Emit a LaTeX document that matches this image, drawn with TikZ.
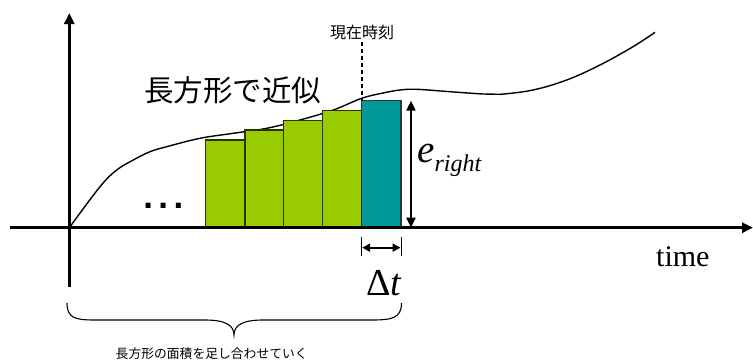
\documentclass[tikz,border=0pt]{standalone}
\usepackage{fontspec}
\setmainfont{Liberation Serif}
\newfontfamily\jp{Noto Sans CJK JP}
\newfontfamily\dejavu{DejaVu Sans}
\usetikzlibrary{arrows.meta}
\definecolor{barGreen}{HTML}{99CC00}
\definecolor{barTeal}{HTML}{009999}
\definecolor{barEdge}{HTML}{2B3300}
\tikzset{
  axisline/.style={line width=2.8pt},
  bargreen/.style={fill=barGreen, draw=barEdge, line width=1.3pt},
  barteal/.style={fill=barTeal, draw=black!80, line width=1.3pt},
  dimarrow/.style={line width=2.2pt, {Triangle[length=10pt,width=9pt]}-{Triangle[length=10pt,width=9pt]}},
  smallarrow/.style={line width=2pt, {Triangle[length=8pt,width=8pt]}-{Triangle[length=8pt,width=8pt]}},
  tickline/.style={line width=1pt},
  curveline/.style={line width=1.4pt},
  nowline/.style={line width=2pt, dash pattern=on 4pt off 3pt},
  lbl/.style={inner sep=0pt},
}
\begin{document}
\begin{tikzpicture}[x=1pt, y=-1pt]
\useasboundingbox (0,0) rectangle (753,360);
% coordinates
\coordinate (origin) at (69.3,227.7);
\coordinate (yTop) at (69.3,13);
\coordinate (yBot) at (69.3,287);
\coordinate (xLeft) at (10,227.7);
\coordinate (xRight) at (753,227.7);
% curve
\draw[curveline] plot[smooth, tension=0.6] coordinates {
 (69.3,227.7) (100,186.7) (116.7,170) (133.3,160) (150,151.7) (166.7,146.7)
 (200,138.3) (233.3,133.3) (266.7,128.3) (300,120) (333.3,110) (361.7,98.3)
 (383,93) (400,90) (416.7,89.3) (450,91.7) (483,94) (500,94.3) (533,90)
 (566.7,80) (600,65) (633,46.7) (655,32.3)};
% bars
\draw[bargreen] (205.7,227.7) rectangle (245,140);
\draw[bargreen] (245,227.7) rectangle (283.7,130);
\draw[bargreen] (283.7,227.7) rectangle (322.7,120.7);
\draw[bargreen] (322.7,227.7) rectangle (361.7,110.7);
\draw[barteal] (361.7,227.7) rectangle (401,100.7);
% axes
\draw[axisline, -{Triangle[length=11pt,width=10pt]}] (xLeft) -- (xRight);
\draw[axisline, -{Triangle[length=11pt,width=10pt]}] (yBot) -- (yTop);
% now line
\coordinate (nowTop) at (361.7,41.7);
\coordinate (nowBot) at (361.7,100.7);
\draw[nowline] (nowTop) -- (nowBot);
\node[lbl, font=\jp\fontsize{16}{16}\selectfont] (now) at (362,32) {現在時刻};
% e_right arrow
\coordinate (eTop) at (411,100.7);
\coordinate (eBot) at (411,227.7);
\draw[dimarrow] (eTop) -- (eBot);
\node[lbl, anchor=base west] (elabel) at (417,162)
 {\fontsize{39}{39}\selectfont\textit{e}\raisebox{-9pt}{\fontsize{24}{24}\selectfont\textit{right}}};
% delta t
\coordinate (dtL1) at (361.7,236.7);
\coordinate (dtL2) at (361.7,256);
\coordinate (dtR1) at (401,236.7);
\coordinate (dtR2) at (401,256);
\draw[tickline] (dtL1) -- (dtL2);
\draw[tickline] (dtR1) -- (dtR2);
\coordinate (dtA) at (362.2,247.7);
\coordinate (dtB) at (400.5,247.7);
\draw[smallarrow] (dtA) -- (dtB);
\node[lbl, anchor=base west] (dt) at (366,295) {\fontsize{38}{38}\selectfont Δ\textit{t}};
% time
\node[lbl, anchor=base west] (time) at (656,266.7) {\fontsize{30}{30}\selectfont time};
% title
\node[lbl, font=\jp\fontsize{29.5}{29.5}\selectfont] (title) at (232.5,90) {長方形で近似};
% dots
\node[lbl, anchor=base, font=\dejavu\bfseries\fontsize{28}{28}\selectfont] (dots) at (163.3,208) {.\hspace{4.5pt}.\hspace{4.5pt}.};
% brace
\coordinate (brL) at (67,303);
\coordinate (brTip) at (234,335);
\coordinate (brR) at (401.5,303);
\draw[line width=1.1pt] (brL) .. controls (67,318) and (75,320) .. (95,320) -- (205,320)
  .. controls (225,320) and (234,325) .. (brTip)
  .. controls (234,325) and (243,320) .. (263,320) -- (372,320)
  .. controls (392,320) and (401.5,318) .. (brR);
\node[lbl, font=\jp\fontsize{12.8}{12.8}\selectfont] (sum) at (211.7,354) {長方形の面積を足し合わせていく};
\end{tikzpicture}
\end{document}
